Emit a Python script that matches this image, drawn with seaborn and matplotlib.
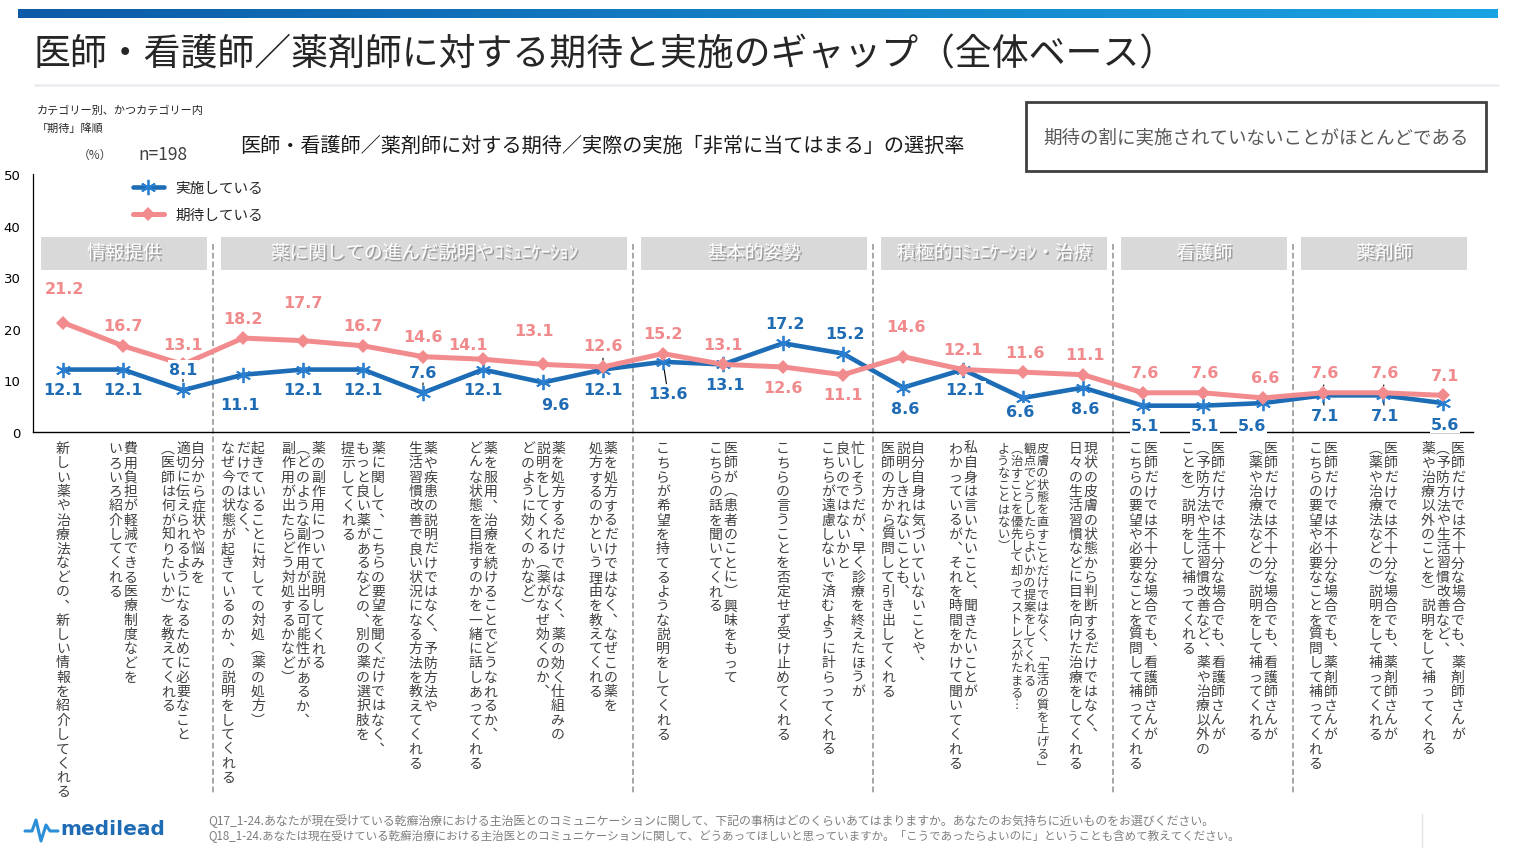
import matplotlib
matplotlib.use("Agg")
import matplotlib.pyplot as plt
import matplotlib.transforms as mtransforms
import matplotlib.patheffects as pe
from matplotlib.patches import Rectangle
from matplotlib.lines import Line2D
from matplotlib.colors import LinearSegmentedColormap
import numpy as np
import pandas as pd
import seaborn as sns

# ---------------- data ----------------
expected = [21.2, 16.7, 13.1, 18.2, 17.7, 16.7, 14.6, 14.1, 13.1, 12.6, 15.2, 13.1,
            12.6, 11.1, 14.6, 12.1, 11.6, 11.1, 7.6, 7.6, 6.6, 7.6, 7.6, 7.1]
implemented = [12.1, 12.1, 8.1, 11.1, 12.1, 12.1, 7.6, 12.1, 9.6, 12.1, 13.6, 13.1,
               17.2, 15.2, 8.6, 12.1, 6.6, 8.6, 5.1, 5.1, 5.6, 7.1, 7.1, 5.6]
series_names = ["実施している", "期待している"]

group_names = ["情報提供", "薬に関しての進んだ説明やｺﾐｭﾆｹｰｼｮﾝ", "基本的姿勢",
               "積極的ｺﾐｭﾆｹｰｼｮﾝ・治療", "看護師", "薬剤師"]
group_starts = [0, 3, 10, 14, 18, 21]
group_ends = [2, 9, 13, 17, 20, 23]

x_labels = [
    ["新しい薬や治療法などの、新しい情報を紹介してくれる"],
    ["費用負担が軽減できる医療制度などを", "いろいろ紹介してくれる"],
    ["自分から症状や悩みを", "適切に伝えられるようになるために必要なこと", "（医師は何が知りたいか）を教えてくれる"],
    ["起きていることに対しての対処（薬の処方）", "だけではなく、", "なぜ今の状態が起きているのか、の説明をしてくれる"],
    ["薬の副作用について説明してくれる", "（どのような副作用が出る可能性があるか、", "副作用が出たらどう対処するかなど）"],
    ["薬に関して、こちらの要望を聞くだけではなく、", "もっと良い薬があるなどの、別の薬の選択肢を", "提示してくれる"],
    ["薬や疾患の説明だけではなく、予防方法や", "生活習慣改善で良い状況になる方法を教えてくれる"],
    ["薬を服用、治療を続けることでどうなれるか、", "どんな状態を目指すのかを一緒に話しあってくれる"],
    ["薬を処方するだけではなく、薬の効く仕組みの", "説明をしてくれる（薬がなぜ効くのか、", "どのように効くのかなど）"],
    ["薬を処方するだけではなく、なぜこの薬を", "処方するのかという理由を教えてくれる"],
    ["こちらが希望を持てるような説明をしてくれる"],
    ["医師が（患者のことに）興味をもって", "こちらの話を聞いてくれる"],
    ["こちらの言うことを否定せず受け止めてくれる"],
    ["忙しそうだが、早く診療を終えたほうが", "良いのではないかと", "こちらが遠慮しないで済むように計らってくれる"],
    ["自分自身は気づいていないことや、", "説明しきれないことも、", "医師の方から質問して引き出してくれる"],
    ["私自身は言いたいこと、聞きたいことが", "わかっているが、それを時間をかけて聞いてくれる"],
    ["皮膚の状態を直すことだけではなく、「生活の質を上げる」", "観点でどうしたらよいかの提案をしてくれる",
     "（治すことを優先して却ってストレスがたまる…", "ようなことはない）"],
    ["現状の皮膚の状態から判断するだけではなく、", "日々の生活習慣などに目を向けた治療をしてくれる"],
    ["医師だけでは不十分な場合でも、看護師さんが", "こちらの要望や必要なことを質問して補ってくれる"],
    ["医師だけでは不十分な場合でも、看護師さんが", "（予防方法や生活習慣改善など、薬や治療以外の", "ことを）説明をして補ってくれる"],
    ["医師だけでは不十分な場合でも、看護師さんが", "（薬や治療法などの）説明をして補ってくれる"],
    ["医師だけでは不十分な場合でも、薬剤師さんが", "こちらの要望や必要なことを質問して補ってくれる"],
    ["医師だけでは不十分な場合でも、薬剤師さんが", "（薬や治療法などの）説明をして補ってくれる"],
    ["医師だけでは不十分な場合でも、薬剤師さんが", "（予防方法や生活習慣改善など、", "薬や治療以外のことを）説明をして補ってくれる"],
]

# label offsets in pixels (dx, dy with dy downward)
exp_off = [(2, -34), (0, -20), (0, -20), (0, -20), (0, -38), (0, -20), (0, -20), (-15, -15),
           (-9, -34), (0, -21), (0, -20), (0, -20), (0, 21), (0, 20), (3, -30), (0, -20),
           (2, -20), (2, -20), (2, -20), (2, -20), (2, -20), (2, -20), (2, -20), (2, -20)]
imp_off = [(0, 20), (0, 20), (0, -21), (-3, 30), (0, 20), (0, 20), (0, -20), (0, 20),
           (12, 22), (0, 20), (5, 32), (2, 20), (2, -20), (2, -20), (2, 21), (2, 20),
           (-3, 14), (2, 21), (2, 20), (2, 20), (-11, 22), (2, 20), (2, 20), (2, 21)]
exp_leaders = [9, 21, 22]
imp_leaders = [2, 6, 10, 21, 22]

# ---------------- style ----------------
W, H = 1516, 853
BLUE = "#1d6db6"
PINK = "#f28b8d"
BLUE_TXT = "#1f6cb5"
PINK_TXT = "#f08a8c"
JP = ["Noto Sans CJK JP", "DejaVu Sans"]
NUM = ["DejaVu Sans"]

sns.set_style("white")
plt.rcParams["font.family"] = JP

fig = plt.figure(figsize=(W / 100, H / 100), dpi=100)


def fx(px):
    return px / W


def fy(py):
    return 1 - py / H


# axes: x from 33 to 1473, y0=433, y50=175
ax = fig.add_axes([fx(33), fy(433), fx(1473) - fx(33), (433 - 175) / H])

idx = np.arange(len(expected))
df = pd.DataFrame({"idx": idx, "exp": expected, "imp": implemented})

sns.lineplot(data=df, x="idx", y="imp", ax=ax, color=BLUE, linewidth=3.3,
             marker=(6, 2, 0), markersize=11, markeredgewidth=1.3,
             markeredgecolor="#2b7fd0", label=series_names[0], zorder=3)
sns.lineplot(data=df, x="idx", y="exp", ax=ax, color=PINK, linewidth=3.6,
             marker="D", markersize=7, markeredgewidth=0, label=series_names[1], zorder=3)

ax.set_xlim(-0.5, len(expected) - 0.5)
ax.set_ylim(0, 50)
ax.set_yticks([0, 10, 20, 30, 40, 50])
ax.set_xticks([])
ax.set_xlabel("")
ax.set_ylabel("")
ax.tick_params(axis="y", length=0, pad=9, labelsize=9.5, labelcolor="#000000")
for lab in ax.get_yticklabels():
    lab.set_family(NUM)
for s in ["top", "right"]:
    ax.spines[s].set_visible(False)
ax.spines["left"].set_color("#000000")
ax.spines["left"].set_linewidth(0.9)
ax.spines["bottom"].set_color("#000000")
ax.spines["bottom"].set_linewidth(1.0)
ax.patch.set_alpha(0)

# legend
h, l = ax.get_legend_handles_labels()
ax.legend(h, l, loc="upper left", bbox_to_anchor=(fx(133), fy(182)),
          bbox_transform=fig.transFigure, frameon=False, fontsize=10.5,
          handlelength=2.1, handletextpad=0.8, labelspacing=0.88,
          borderpad=0, borderaxespad=0)

# data labels
lead_solid = dict(arrowstyle="-", color="#000000", lw=0.8, shrinkA=1, shrinkB=6)
lead_dash = dict(arrowstyle="-", color="#000000", lw=0.8, linestyle=(0, (2, 2)),
                 shrinkA=1, shrinkB=5)
for i, v in enumerate(expected):
    dx, dy = exp_off[i]
    ax.annotate(f"{v:.1f}", xy=(i, v), xytext=(dx, -dy), textcoords="offset pixels",
                ha="center", va="center", fontsize=11.5, fontweight="bold",
                color=PINK_TXT, family=NUM, zorder=5,
                arrowprops=lead_dash if i in exp_leaders else None)
for i, v in enumerate(implemented):
    dx, dy = imp_off[i]
    ax.annotate(f"{v:.1f}", xy=(i, v), xytext=(dx, -dy), textcoords="offset pixels",
                ha="center", va="center", fontsize=11.5, fontweight="bold",
                color=BLUE_TXT, family=NUM, zorder=5,
                bbox=dict(boxstyle="square,pad=0.08", fc="white", ec="none"),
                arrowprops=(lead_solid if i == 10 else lead_dash) if i in imp_leaders else None)

# group header boxes
for name, s, e in zip(group_names, group_starts, group_ends):
    left = s - 0.36
    right = e + 0.4
    ax.add_patch(Rectangle((left, 31.4), right - left, 6.4, facecolor="#d9d9d9",
                           edgecolor="none", zorder=1))
    ax.text((left + right) / 2, 34.6, name, ha="center", va="center", fontsize=13.4,
            color="white", zorder=2,
            path_effects=[pe.withSimplePatchShadow(offset=(1.2, -1.2),
                                                   shadow_rgbFace="#7f7f7f", alpha=0.7)])

# dashed separators
xaxis_tr = ax.get_xaxis_transform()
for e in group_ends[:-1]:
    ax.plot([e + 0.5, e + 0.5], [0.73, -1.40], transform=xaxis_tr, clip_on=False,
            color="#a6a6a6", linewidth=1.4, linestyle=(0, (3, 1.5)), zorder=1)

# vertical category labels (Japanese vertical writing, columns right to left)
VERT = {"（": "︵", "）": "︶", "、": "︑", "。": "︒", "「": "﹁", "」": "﹂", "…": "︙"}
for i, cols in enumerate(x_labels):
    n = len(cols)
    if i == 16:
        fs, pitch, cpitch = 8.8, 12.2, 13.0
    else:
        fs, pitch, cpitch = 10.0, 14.3, 15.0
    for c, line in enumerate(cols):
        dx = ((n - 1) / 2 - c) * cpitch
        for r, ch in enumerate(line):
            ch = VERT.get(ch, ch)
            dy = -(16 + r * pitch)
            tr = mtransforms.offset_copy(xaxis_tr, fig=fig, x=dx, y=dy, units="dots")
            ax.text(i, 0, ch, transform=tr, ha="center", va="center", fontsize=fs,
                    color="#404040", family=JP, clip_on=False)

# ---------------- page decorations ----------------
# top gradient bar
bar_ax = fig.add_axes([fx(18), fy(18.5), fx(1498) - fx(18), 8.5 / H])
grad = np.linspace(0, 1, 256).reshape(1, -1)
bar_ax.imshow(grad, aspect="auto",
              cmap=LinearSegmentedColormap.from_list("bar", ["#0d5ba8", "#1aa3e2"]))
bar_ax.set_axis_off()

# title
fig.text(fx(33), fy(55), "医師・看護師／薬剤師に対する期待と実施のギャップ（全体ベース）",
         fontsize=26.6, va="center", ha="left", color="#262626")
fig.add_artist(Line2D([fx(35), fx(1498)], [fy(86), fy(86)], transform=fig.transFigure,
                      color="#ebebf0", linewidth=1.8))

# notes
fig.text(fx(37), fy(111), "カテゴリー別、かつカテゴリー内", fontsize=8, va="center", color="#262626")
fig.text(fx(37), fy(129), "「期待」降順", fontsize=8, va="center", color="#262626")
fig.text(fx(95), fy(155), "（%）", fontsize=8.5, va="center", ha="center", color="#404040")
fig.text(fx(138), fy(155), "n=198", fontsize=12.5, va="center", color="#404040")

# subtitle
fig.text(fx(240), fy(146), "医師・看護師／薬剤師に対する期待／実際の実施「非常に当てはまる」の選択率",
         fontsize=14.5, va="center", color="#1a1a1a")

# right box
fig.add_artist(Rectangle((fx(1026), fy(172)), fx(1486) - fx(1026), (172 - 103) / H,
                         transform=fig.transFigure, fill=False, edgecolor="#404040",
                         linewidth=2.0))
fig.text(fx(1256), fy(138), "期待の割に実施されていないことがほとんどである",
         fontsize=13.3, va="center", ha="center", color="#595959")

# footer
fig.text(fx(208), fy(821),
         "Q17_1-24.あなたが現在受けている乾癬治療における主治医とのコミュニケーションに関して、下記の事柄はどのくらいあてはまりますか。あなたのお気持ちに近いものをお選びください。",
         fontsize=8.6, va="center", color="#7f7f7f")
fig.text(fx(208), fy(836),
         "Q18_1-24.あなたは現在受けている乾癬治療における主治医とのコミュニケーションに関して、どうあってほしいと思っていますか。「こうであったらよいのに」ということも含めて教えてください。",
         fontsize=8.3, va="center", color="#7f7f7f")
fig.add_artist(Line2D([fx(1422), fx(1422)], [fy(815), fy(848)], transform=fig.transFigure,
                      color="#e3e3e3", linewidth=1))

# logo
px = [25, 32, 36, 41, 46, 50, 58]
py = [832, 832, 821, 842, 826, 832, 832]
fig.add_artist(Line2D([fx(p) for p in px], [fy(p) for p in py], transform=fig.transFigure,
                      color="#2a8fd8", linewidth=2.2))
fig.text(fx(60), fy(830), "medilead", fontsize=14.5, fontweight="bold", va="center",
         color="#1f6cb5", family=NUM)

fig.savefig("out.png", dpi=100)
